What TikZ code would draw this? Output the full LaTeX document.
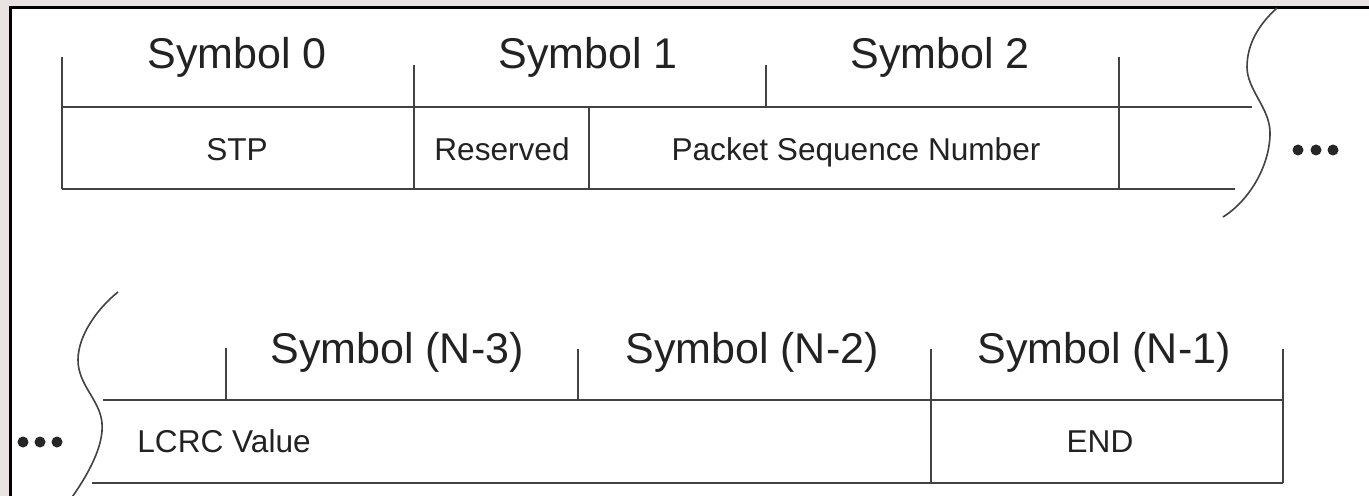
\documentclass[tikz,border=0pt]{standalone}
\usepackage{fontspec}
\setmainfont{Liberation Sans}
\usetikzlibrary{positioning}
\definecolor{SlideBack}{HTML}{E9E3E2}
\definecolor{RuleGrey}{HTML}{424242}
\definecolor{TextDark}{HTML}{222222}

\begin{document}
\begin{tikzpicture}[x=0.5pt, y=-0.5pt,
        symlabel/.style={inner sep=0pt, anchor=base, text=TextDark, font=\fontsize{21.5}{24}\selectfont},
        fieldlabel/.style={inner sep=0pt, anchor=base, text=TextDark, font=\fontsize{15.8}{18}\selectfont},
        rule/.style={draw=RuleGrey, line width=1pt},
        breakline/.style={draw=RuleGrey, line width=0.8pt},
        dot/.style={fill=black!85}]

        % page and frame
        \fill[SlideBack] (0,0) rectangle (1369,496);
        \useasboundingbox (0,0) rectangle (1369,496);
        \fill[white] (10,8) rectangle (1372,500);
        \draw[black, line width=1.5pt] (10,500) -- (10,8) -- (1372,8);

        % first line: symbols 0..2
        \node[symlabel] (sym0) at (237,69) {Symbol 0};
        \node[symlabel] (sym1) at (588,69) {Symbol 1};
        \node[symlabel] (sym2) at (940,69) {Symbol 2};

        \node[fieldlabel] (stp) at (237,161) {STP};
        \node[fieldlabel] (resv) at (502,161) {Reserved};
        \node[fieldlabel] (psn) at (856,161) {Packet Sequence Number};

        \draw[rule] (62,107) -- (1252,107);
        \draw[rule] (62,189) -- (1235,189);
        \draw[rule] (62,57) -- (62,189);
        \draw[rule] (414,65) -- (414,189);
        \draw[rule] (589,107) -- (589,189);
        \draw[rule] (766,65) -- (766,107);
        \draw[rule] (1119,57) -- (1119,189);

        \draw[breakline] (1277,8) .. controls (1258,25) and (1247,45) .. (1247,67)
            .. controls (1247,90) and (1270,108) .. (1270,133)
            .. controls (1270,165) and (1250,200) .. (1223,217);
        \foreach \dx in {1298,1316,1333}
            \fill[dot] (\dx,150) circle[radius=5.5];

        % second line: symbols N-3..N-1
        \node[symlabel] (symn3) at (397,364) {Symbol (N-3)};
        \node[symlabel] (symn2) at (752,364) {Symbol (N-2)};
        \node[symlabel] (symn1) at (1104,364) {Symbol (N-1)};

        \node[fieldlabel, anchor=base west] (lcrc) at (137,452) {LCRC Value};
        \node[fieldlabel] (endsym) at (1100,452) {END};

        \draw[rule] (103,400) -- (1283,400);
        \draw[rule] (92,483) -- (1283,483);
        \draw[rule] (226,348) -- (226,400);
        \draw[rule] (578,349) -- (578,400);
        \draw[rule] (931,349) -- (931,483);
        \draw[rule] (1283,349) -- (1283,483);

        \draw[breakline] (118,292) .. controls (98,308) and (78,335) .. (78,360)
            .. controls (78,385) and (100,400) .. (102,423)
            .. controls (104,446) and (88,475) .. (70,500);
        \foreach \dx in {23,40,57}
            \fill[dot] (\dx,442) circle[radius=5.5];
    \end{tikzpicture}
\end{document}
